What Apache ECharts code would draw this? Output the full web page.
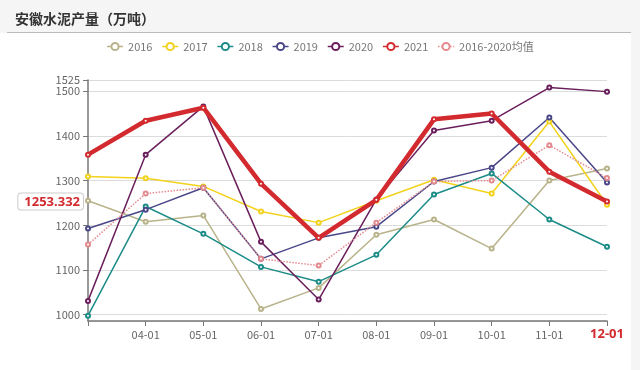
<!DOCTYPE html>
<html><head><meta charset="utf-8">
<script src="https://cdn.jsdelivr.net/npm/echarts@6/dist/echarts.min.js"></script>
<style>html,body{margin:0;padding:0;background:#fff}#c{width:640px;height:370px}</style>
</head><body><div id="c"></div>
<script>
const categories = ['03-01','04-01','05-01','06-01','07-01','08-01','09-01','10-01','11-01','12-01'];
const s2016 = [1255,1208,1222,1013,1060,1179,1213,1148,1300,1327];
const s2017 = [1309,1305,1287,1231,1206,1255,1302,1271,1432,1246];
const s2018 = [998,1242,1181,1107,1074,1134,1269,1316,1213,1152];
const s2019 = [1193,1235,1284,1125,1172,1197,1298,1329,1441,1296];
const s2020 = [1031,1358,1466,1163,1034,1258,1412,1434,1508,1499];
const s2021 = [1358,1434,1463,1293,1172,1257,1437,1450,1320,1253.332];
const sAvg = [1157,1271,1284,1125,1110,1206,1298,1300,1379,1306];
const names = ['2016','2017','2018','2019','2020','2021','2016-2020均值'];
const colors = ['#b8b38a','#f2d21b','#1c8c88','#4a4789','#6a1f5c','#d22a2e','#e38a8e'];

const chart = echarts.init(document.getElementById('c'));
function mk(i, data, opts) {
  return Object.assign({
    name: names[i], type: 'line', data, symbol: 'emptyCircle', symbolSize: 4,
    itemStyle: { color: colors[i] }, lineStyle: { color: colors[i], width: 1.5 }, z: 2
  }, opts || {});
}
chart.setOption({
  animation: false,
  textStyle: { fontFamily: '"Noto Sans CJK SC", "Noto Sans", sans-serif' },
  graphic: [
    { type: 'rect', shape: { x: 0, y: 0, width: 640, height: 33 }, style: { fill: '#f5f5f5' }, z: -10 },
    { type: 'rect', shape: { x: 631, y: 0, width: 9, height: 370 }, style: { fill: '#f5f5f5' }, z: -10 },
    { type: 'line', shape: { x1: 7, y1: 32.5, x2: 631, y2: 32.5 }, style: { stroke: '#bbbbbb', lineWidth: 1 } }
  ],
  title: { text: '安徽水泥产量（万吨）', left: 10, top: 7,
    textStyle: { fontSize: 14, fontWeight: 'bold', color: '#333' } },
  legend: { top: 36, left: 'center', itemWidth: 16, itemHeight: 9, itemGap: 9,
    lineStyle: { width: 1.5 },
    textStyle: { color: '#777', fontSize: 11 }, data: names },
  color: colors,
  grid: { left: 88, right: 33, top: 80, bottom: 49 },
  xAxis: {
    type: 'category', data: categories, boundaryGap: false,
    axisLine: { lineStyle: { color: '#777', width: 1.5 } },
    axisTick: { lineStyle: { color: '#777' } },
    axisLabel: { color: '#666', fontSize: 11, interval: 0,
      formatter: (v, i) => (i === 0 || i === categories.length - 1) ? '' : v },
    axisPointer: { show: true, value: 9, status: 'show', triggerTooltip: false,
      lineStyle: { opacity: 0 },
      label: { show: true, color: '#d22a2e', fontWeight: 'bold', fontSize: 13,
        fontFamily: '"Noto Sans", sans-serif',
        backgroundColor: 'transparent', padding: [2, 2], margin: 5 },
      handle: { show: false } }
  },
  yAxis: {
    type: 'value', min: 986, max: 1525,
    axisLine: { show: true, lineStyle: { color: '#777', width: 1.5 } },
    axisTick: { show: true, lineStyle: { color: '#777' } },
    splitLine: { lineStyle: { color: '#dcdcdc' } },
    axisLabel: { color: '#666', fontSize: 11, showMinLabel: false, showMaxLabel: true,
      formatter: v => String(v) },
    axisPointer: { show: true, value: 1253.332, status: 'show', triggerTooltip: false,
      lineStyle: { opacity: 0 },
      label: { show: true, color: '#d22a2e', fontWeight: 'bold', fontSize: 13,
        fontFamily: '"Noto Sans", sans-serif',
        backgroundColor: '#fff', borderColor: '#ccc', borderWidth: 1,
        padding: [2, 3, 1, 6], margin: 5, formatter: p => Number(p.value).toFixed(3) } }
  },
  series: [
    mk(0, s2016),
    mk(1, s2017),
    mk(2, s2018),
    mk(3, s2019),
    mk(4, s2020),
    mk(5, s2021, { lineStyle: { color: colors[5], width: 4.5 }, z: 5 }),
    mk(6, sAvg, { lineStyle: { color: colors[6], width: 1.5, type: 'dotted' } })
  ]
});
</script></body></html>
